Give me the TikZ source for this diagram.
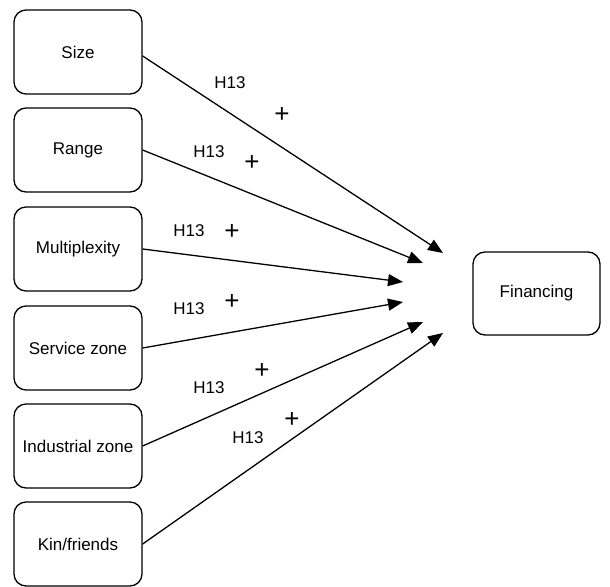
\documentclass[tikz,border=0pt]{standalone}
\usepackage{fontspec}
\setmainfont{Liberation Sans}
\usetikzlibrary{arrows.meta, positioning}

\tikzset{
  box/.style={draw, line width=1.3pt, rounded corners=12pt, minimum width=128pt,
    minimum height=84pt, inner sep=2pt, font=\fontsize{17}{20}\selectfont},
  hyp/.style={font=\fontsize{17}{20}\selectfont, inner sep=0pt},
  sign/.style={font=\fontsize{26}{28}\selectfont, inner sep=0pt},
  link/.style={->, line width=1.3pt}
}

\begin{document}
\begin{tikzpicture}[x=1pt, y=-1pt, >={Triangle[length=15pt,width=12pt]}]
\useasboundingbox (0,0) rectangle (610,586);

% predictors
\node[box] (size) at (78,52) {Size};
\node[box] (range) at (78,150) {Range};
\node[box] (multi) at (78,249) {Multiplexity};
\node[box] (service) at (78,348) {Service zone};
\node[box] (industrial) at (78,446) {Industrial zone};
\node[box] (kin) at (78,544) {Kin/friends};

% outcome
\node[box, minimum width=127pt, minimum height=83pt] (financing) at (536.5,293.5) {Financing};

% arrow heads
\coordinate (tsize) at (443,253);
\coordinate (trange) at (423,263);
\coordinate (tmulti) at (403,282);
\coordinate (tservice) at (403,302);
\coordinate (tindustrial) at (423,322);
\coordinate (tkin) at (443,333);

\draw[link] ([yshift=-4pt]size.east) -- (tsize);
\draw[link] (range.east) -- (trange);
\draw[link] (multi.east) -- (tmulti);
\draw[link] (service.east) -- (tservice);
\draw[link] (industrial.east) -- (tindustrial);
\draw[link] (kin.east) -- (tkin);

% hypotheses
\node[hyp] (hsize) at (230,83) {H13};
\node[sign] (psize) at (282,115) {+};
\node[hyp] (hrange) at (209,152) {H13};
\node[sign] (prange) at (252,163) {+};
\node[hyp] (hmulti) at (189,231) {H13};
\node[sign] (pmulti) at (232,232) {+};
\node[hyp] (hservice) at (189,309) {H13};
\node[sign] (pservice) at (232,302) {+};
\node[hyp] (hindustrial) at (209,388) {H13};
\node[sign] (pindustrial) at (262,371) {+};
\node[hyp] (hkin) at (248,438) {H13};
\node[sign] (pkin) at (292,420) {+};

\end{tikzpicture}
\end{document}
